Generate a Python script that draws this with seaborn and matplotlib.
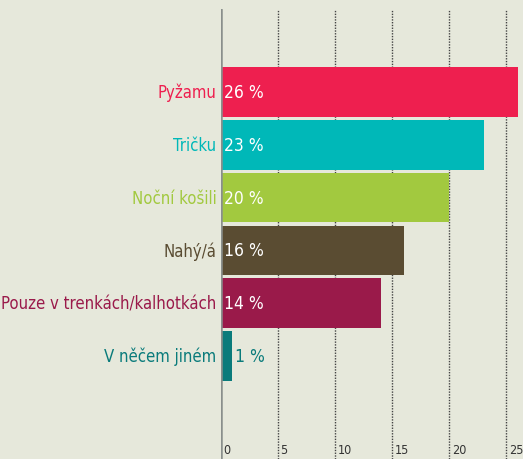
import matplotlib.pyplot as plt
import seaborn as sns
import pandas as pd

categories = ['Pyžamu', 'Tričku', 'Noční košili', 'Nahý/á',
              'Pouze v trenkách/kalhotkách', 'V něčem jiném']
values = [26, 23, 20, 16, 14, 1]
colors = ['#ee1f4f', '#00b8b8', '#a2c93f', '#5a4c32', '#9a1a4a', '#0a7b7b']
ticks = [0, 5, 10, 15, 20, 25]

bg = '#e6e8db'
sns.set_theme(style='white')
plt.rcParams['font.family'] = ['DejaVu Sans']
plt.rcParams['font.stretch'] = 'condensed'

df = pd.DataFrame({'kat': categories, 'hodnota': values})

fig = plt.figure(figsize=(5.23, 4.6), dpi=100, facecolor=bg)
ax = fig.add_axes([221 / 523, 0, 1 - 221 / 523, 450 / 460])
ax.set_facecolor(bg)

sns.barplot(data=df, x='hodnota', y='kat', hue='kat', palette=colors,
            legend=False, width=0.94, saturation=1, linewidth=0,
            ax=ax, zorder=3)

ax.set_xlim(0, 26.45)
ax.set_ylim(6.95, -1.57)
for s in ax.spines.values():
    s.set_visible(False)
ax.set_xticks([])
ax.set_yticks([])
ax.set_xlabel('')
ax.set_ylabel('')

for t in ticks:
    if t == 0:
        ax.axvline(t, color='#8a8f8c', lw=1.8, zorder=4)
    else:
        ax.axvline(t, color='#444444', lw=1, ls=(0, (1, 1)), zorder=1)
    ax.text(t + 0.2, 0.02, str(t), transform=ax.get_xaxis_transform(),
            ha='left', va='center', fontsize=9, color='#333333',
            fontstretch='condensed')

for i, (c, v, col) in enumerate(zip(categories, values, colors)):
    ax.text(-0.4, i, c, ha='right', va='center', fontsize=12, color=col,
            clip_on=False, fontstretch='condensed')
    if v > 3:
        ax.text(0.25, i, f'{v} %', ha='left', va='center', fontsize=12.5,
                color='white', zorder=5, fontstretch='condensed')
    else:
        ax.text(v + 0.25, i, f'{v} %', ha='left', va='center', fontsize=12.5,
                color=col, zorder=5, fontstretch='condensed')

fig.savefig('out.png', dpi=100, facecolor=bg)
